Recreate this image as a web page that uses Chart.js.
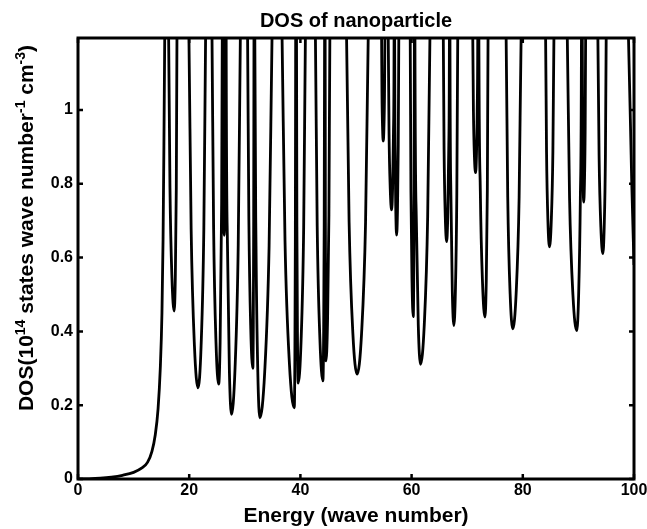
<!DOCTYPE html>
<html><head><meta charset="utf-8">
<script src="https://cdn.jsdelivr.net/npm/chart.js@4.4.1/dist/chart.umd.min.js"></script>
<style>html,body{margin:0;padding:0;background:#fff}#wrap{width:647px;height:529px;position:relative}</style>
</head><body><div id="wrap"><canvas id="c"></canvas></div>
<script>
// Energy (wave number) values
const energy = [
  0,2,4,6,8,10,11.5,12.5,13.3,13.9,14.4,14.8,15.1,15.3,15.45,15.6, 15.95,
  16.3,16.54,16.9,17.3,17.5,17.68,17.8, 18.9,
  19.95,20.35,20.94,21.6,22.14,22.63,22.95, 23.5,
  24.1,24.39,24.82,25.3,25.56,25.79,25.95, 26.0,
  26.05,26.11,26.2,26.3,26.4,26.49,26.55, 26.6,
  26.65,26.88,27.22,27.6,28.24,28.82,29.2, 29.85,
  30.5,30.73,31.07,31.45,31.53,31.6,31.65, 31.72,
  31.8,32.02,32.34,32.7,33.58,34.37,34.9, 35.8,
  36.7,37.23,38.02,38.9,39.0,39.09,39.15, 39.22,
  39.3,39.37,39.48,39.6,40.12,40.59,40.9, 41.8,
  42.7,43.02,43.51,44.05,44.17,44.28,44.35, 44.4,
  44.45,44.49,44.54,44.6,44.88,45.13,45.3, 46.8,
  48.3,48.76,49.44,50.2,51.0,51.72,52.2, 53.4,
  54.6,54.67,54.78,54.9,55.02,55.13,55.2, 55.5,
  55.8,55.94,56.16,56.4,56.58,56.74,56.85, 56.9,
  56.95,57.03,57.16,57.3,57.46,57.6,57.7, 58.7,
  59.75,59.88,60.08,60.3,60.38,60.45,60.5, 60.55,
  60.6,60.84,61.2,61.6,62.28,62.89,63.3, 64.5,
  65.7,65.84,66.06,66.3,66.5,66.68,66.8, 66.85,
  66.9,67.07,67.32,67.6,67.88,68.13,68.3, 69.6,
  71.0,71.12,71.3,71.5,71.66,71.8,71.9, 72.0,
  72.1,72.36,72.76,73.2,73.42,73.62,73.75, 75.4,
  77.0,77.29,77.72,78.2,78.8,79.34,79.7, 81.9,
  84.1,84.27,84.52,84.8,85.12,85.41,85.6, 86.8,
  88.0,88.41,89.02,89.7,90.04,90.35,90.55, 90.62,
  90.7,90.76,90.85,90.95,91.09,91.22,91.3, 92.4,
  93.5,93.72,94.04,94.4,94.64,94.86,95.0, 97.0,
  99.0,99.6,100
];
// DOS (10^14 states wave number^-1 cm^-3) values
const dos = [
  0,0.0005,0.002,0.005,0.01,0.018,0.03,0.045,0.075,0.12,0.19,0.3,0.45,0.65,0.9,1.2, 2.0,
  1.2,0.790,0.544,0.455,0.544,0.790,1.2, 2.0,
  1.2,0.676,0.361,0.247,0.361,0.676,1.2, 2.0,
  1.2,0.681,0.370,0.257,0.370,0.681,1.2, 2.0,
  1.2,0.903,0.725,0.66,0.725,0.903,1.2, 2.0,
  1.2,0.636,0.298,0.175,0.298,0.636,1.2, 2.0,
  1.2,0.705,0.408,0.30,0.408,0.705,1.2, 2.0,
  1.2,0.631,0.290,0.166,0.290,0.631,1.2, 2.0,
  1.2,0.646,0.314,0.193,0.314,0.646,1.2, 2.0,
  1.2,0.683,0.373,0.26,0.373,0.683,1.2, 2.0,
  1.2,0.686,0.378,0.266,0.378,0.686,1.2, 2.0,
  1.2,0.716,0.426,0.32,0.426,0.716,1.2, 2.0,
  1.2,0.696,0.394,0.284,0.394,0.696,1.2, 2.0,
  1.2,1.044,0.950,0.916,0.950,1.044,1.2, 2.0,
  1.2,0.941,0.786,0.729,0.786,0.941,1.2, 2.0,
  1.2,0.904,0.726,0.661,0.726,0.904,1.2, 2.0,
  1.2,0.782,0.531,0.44,0.531,0.782,1.2, 2.0,
  1.2,0.711,0.418,0.311,0.418,0.711,1.2, 2.0,
  1.2,0.894,0.710,0.643,0.710,0.894,1.2, 2.0,
  1.2,0.769,0.510,0.416,0.510,0.769,1.2, 2.0,
  1.2,0.997,0.874,0.830,0.874,0.997,1.2, 2.0,
  1.2,0.781,0.530,0.439,0.530,0.781,1.2, 2.0,
  1.2,0.764,0.502,0.407,0.502,0.764,1.2, 2.0,
  1.2,0.886,0.698,0.629,0.698,0.886,1.2, 2.0,
  1.2,0.761,0.498,0.402,0.498,0.761,1.2, 2.0,
  1.2,0.953,0.804,0.75,0.804,0.953,1.2, 2.0,
  1.2,0.876,0.682,0.611,0.682,0.876,1.2, 2.0,
  1.2,0.8,0.58
];
const xTicks = [0, 20, 40, 60, 80, 100];
const xTickLabels = ['0', '20', '40', '60', '80', '100'];
const yTicks = [0, 0.2, 0.4, 0.6, 0.8, 1];
const yTickLabels = ['0', '0.2', '0.4', '0.6', '0.8', '1'];
const titleText = 'DOS of nanoparticle';
const xTitleText = 'Energy (wave number)';
const yTitleParts = [['DOS(10', 0], ['14', 1], [' states wave number', 0], ['-1', 1], [' cm', 0], ['-3', 1], [')', 0]];

const FONT = "'Liberation Sans', Arial, Helvetica, sans-serif";

const frame = {
  id: 'frame',
  afterDraw(chart) {
    const ctx = chart.ctx, a = chart.chartArea;
    const xs = chart.scales.x, ys = chart.scales.y;
    ctx.save();
    ctx.strokeStyle = '#000';
    ctx.fillStyle = '#000';
    // ticks (inward)
    ctx.lineWidth = 2.5;
    const tl = 5;
    ctx.beginPath();
    xTicks.forEach(v => {
      const px = xs.getPixelForValue(v);
      ctx.moveTo(px, a.bottom); ctx.lineTo(px, a.bottom - tl);
      ctx.moveTo(px, a.top); ctx.lineTo(px, a.top + tl);
    });
    yTicks.forEach(v => {
      const py = ys.getPixelForValue(v);
      ctx.moveTo(a.left, py); ctx.lineTo(a.left + tl, py);
      ctx.moveTo(a.right, py); ctx.lineTo(a.right - tl, py);
    });
    ctx.stroke();
    // box
    ctx.lineWidth = 3;
    ctx.strokeRect(a.left, a.top, a.right - a.left, a.bottom - a.top);
    // tick labels
    ctx.font = 'bold 16px ' + FONT;
    ctx.textAlign = 'center'; ctx.textBaseline = 'top';
    xTicks.forEach((v, i) => ctx.fillText(xTickLabels[i], xs.getPixelForValue(v), a.bottom + 4));
    ctx.textAlign = 'right'; ctx.textBaseline = 'middle';
    yTicks.forEach((v, i) => ctx.fillText(yTickLabels[i], a.left - 5, ys.getPixelForValue(v)));
    // title
    const cx = (a.left + a.right) / 2;
    ctx.textAlign = 'center'; ctx.textBaseline = 'alphabetic';
    ctx.font = 'bold 20px ' + FONT;
    ctx.fillText(titleText, cx, 27);
    // x title
    ctx.font = 'bold 21px ' + FONT;
    ctx.fillText(xTitleText, cx, 522);
    // y title with superscripts
    const mainF = 'bold 21px ' + FONT, supF = 'bold 14px ' + FONT;
    let total = 0;
    yTitleParts.forEach(p => { ctx.font = p[1] ? supF : mainF; total += ctx.measureText(p[0]).width; });
    ctx.translate(26, 228);
    ctx.rotate(-Math.PI / 2);
    ctx.textAlign = 'left';
    let x = -total / 2;
    yTitleParts.forEach(p => {
      ctx.font = p[1] ? supF : mainF;
      ctx.fillText(p[0], x, p[1] ? -1 : 7);
      x += ctx.measureText(p[0]).width;
    });
    ctx.restore();
  }
};

const points = energy.map((e, i) => ({ x: e, y: dos[i] }));

new Chart(document.getElementById('c'), {
  type: 'line',
  data: { datasets: [{
    data: points,
    borderColor: '#000',
    borderWidth: 2.8,
    pointRadius: 0,
    fill: false,
    cubicInterpolationMode: 'monotone'
  }] },
  options: {
    responsive: true,
    maintainAspectRatio: false,
    animation: false,
    layout: { padding: { left: 78, right: 13, top: 38, bottom: 50 } },
    plugins: { legend: { display: false }, title: { display: false }, tooltip: { enabled: false } },
    scales: {
      x: { type: 'linear', min: 0, max: 100, display: false },
      y: { type: 'linear', min: 0, max: 1.195, display: false }
    }
  },
  plugins: [frame]
});
</script>
</body></html>
